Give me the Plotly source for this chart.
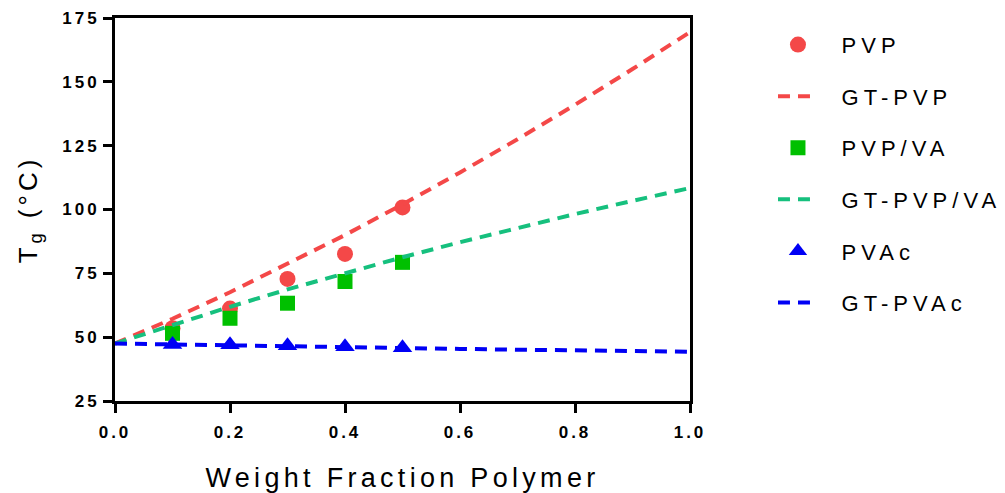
import plotly.graph_objects as go

# ---- data ----
x_meas = [0.1, 0.2, 0.3, 0.4, 0.5]
pvp = [53.5, 61.2, 72.8, 82.6, 100.8]
pvp_va = [51.5, 57.4, 63.3, 71.8, 79.3]
pvac = [47.1, 47.0, 46.6, 46.2, 45.9]

x_fit = [0.0, 0.1, 0.2, 0.3, 0.4, 0.5, 0.6, 0.7, 0.8, 0.9, 1.0]
gt_pvp = [47.5, 57.2, 67.6, 78.6, 90.0, 102.0, 114.5, 127.5, 141.0, 155.0, 169.5]
gt_pvp_va = [47.5, 54.8, 61.9, 68.7, 75.2, 81.3, 87.2, 92.8, 98.2, 103.4, 108.4]
gt_pvac = [47.5, 47.1, 46.8, 46.4, 46.1, 45.8, 45.4, 45.1, 44.8, 44.6, 44.3]

y_ticks = [25, 50, 75, 100, 125, 150, 175]
x_ticks = [0.0, 0.2, 0.4, 0.6, 0.8, 1.0]
x_ticklabels = ["0.0", "0.2", "0.4", "0.6", "0.8", "1.0"]

RED = "#F44848"
GREEN = "#00C000"
TEAL = "#16C07E"
BLUE = "#0000F5"
FONT = "Liberation Sans, Arial, sans-serif"


def spaced(t, px):
    return f'<span style="letter-spacing:{px}px">{t}</span>'


def lg(t):
    # small gap between legend symbol and its label, then letter-spaced label
    return '<span style="letter-spacing:3.2px">\u00a0\u00a0</span>' + spaced(t, 5)


fig = go.Figure()
fig.add_trace(go.Scatter(x=x_meas, y=pvp, mode="markers", name=lg("PVP"), legendgroup="a",
                         marker=dict(symbol="circle", size=16, color=RED)))
fig.add_trace(go.Scatter(x=x_fit, y=gt_pvp, mode="lines", name=lg("GT-PVP"), legendgroup="b",
                         line=dict(color=RED, width=4, dash="12px,8px")))
fig.add_trace(go.Scatter(x=x_meas, y=pvp_va, mode="markers", name=lg("PVP/VA"), legendgroup="c",
                         marker=dict(symbol="square", size=15, color=GREEN)))
fig.add_trace(go.Scatter(x=x_fit, y=gt_pvp_va, mode="lines", name=lg("GT-PVP/VA"), legendgroup="d",
                         line=dict(color=TEAL, width=4, dash="12px,8px")))
fig.add_trace(go.Scatter(x=x_meas, y=pvac, mode="markers", name=lg("PVAc"), legendgroup="e",
                         marker=dict(symbol="triangle-up", size=17, color=BLUE)))
fig.add_trace(go.Scatter(x=x_fit, y=gt_pvac, mode="lines", name=lg("GT-PVAc"), legendgroup="f",
                         line=dict(color=BLUE, width=4, dash="12px,8px")))

axis_common = dict(
    showline=True, linecolor="black", linewidth=3, mirror=True,
    ticks="outside", ticklen=9, tickwidth=3, tickcolor="black",
    showgrid=False, zeroline=False,
    tickfont=dict(family=FONT, size=17, color="black", weight="bold"),
)

fig.update_layout(
    width=1005, height=493,
    margin=dict(l=115, r=315, t=18, b=92, autoexpand=False),
    paper_bgcolor="white", plot_bgcolor="white",
    font=dict(family=FONT, color="black"),
    xaxis=dict(range=[0, 1], tickvals=x_ticks,
               ticktext=[spaced(t, 3) for t in x_ticklabels],
               ticklabelstandoff=5,
               title=dict(text=spaced("Weight Fraction Polymer", 4.3),
                          font=dict(family=FONT, size=27, color="black"), standoff=28),
               **axis_common),
    yaxis=dict(range=[25, 175], tickvals=y_ticks,
               ticktext=[spaced(str(t), 3) for t in y_ticks],
               title=dict(text=spaced("T<sub>g</sub> (°C)", 4),
                          font=dict(family=FONT, size=26, color="black"), standoff=18),
               **axis_common),
    legend=dict(x=1.1443, y=0.985, xanchor="left", yanchor="top",
                font=dict(family=FONT, size=22, color="black"),
                traceorder="grouped", tracegroupgap=20,
                itemwidth=40, bgcolor="rgba(0,0,0,0)"),
    showlegend=True,
)

fig.write_html("out.html")
